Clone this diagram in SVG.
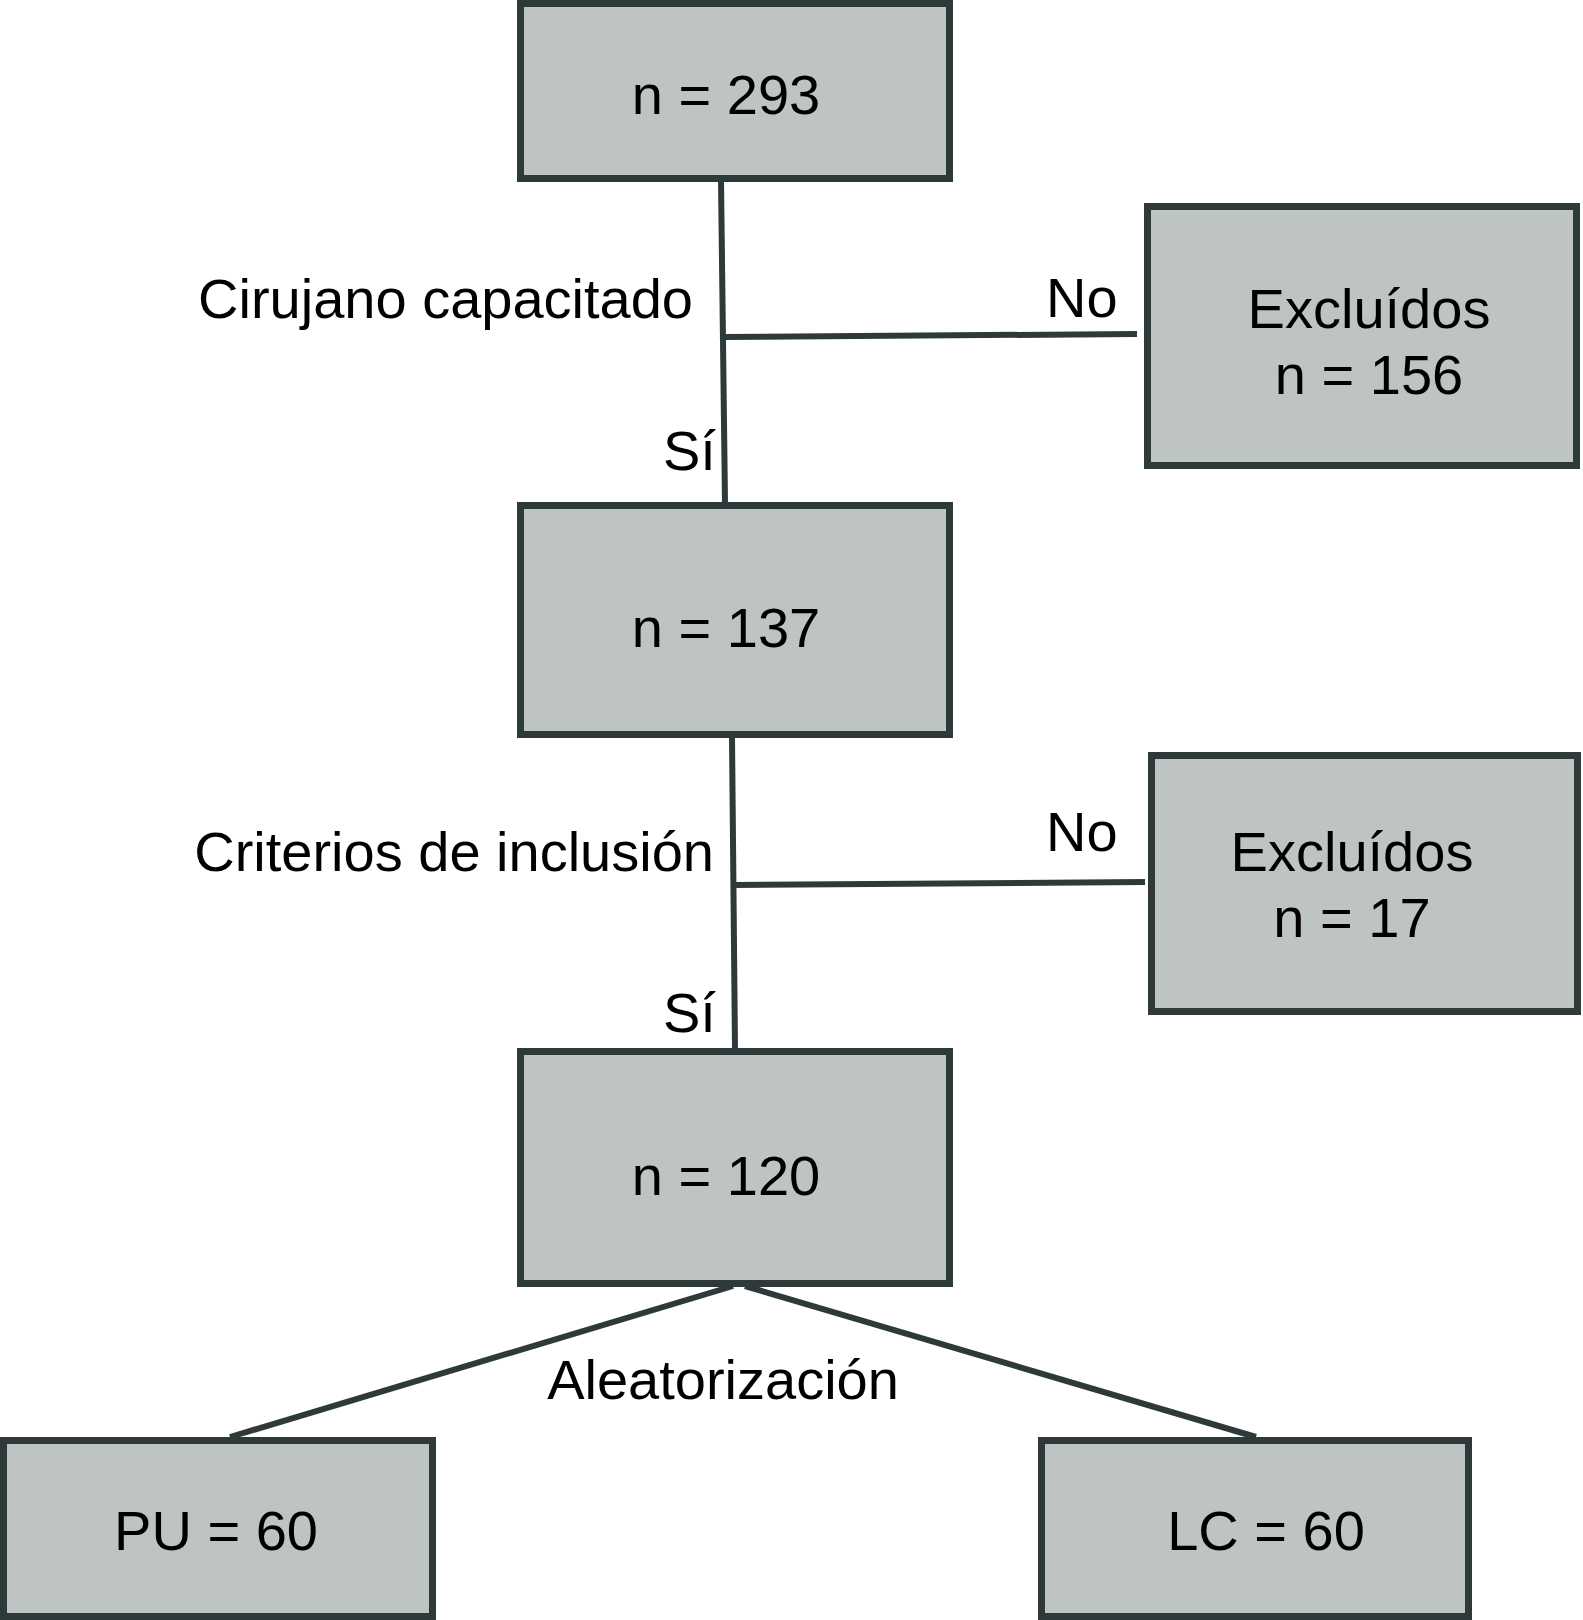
<svg xmlns="http://www.w3.org/2000/svg" width="1583" height="1620" viewBox="0 0 1583 1620">
<style>
.box{fill:#bdc4c1;stroke:#2e3a3a;stroke-width:7}
.ln{fill:none;stroke:#2e3a3a;stroke-width:6}
text{font-family:"Liberation Sans",Arial,Helvetica,sans-serif;font-size:56px;fill:#000}
.c{text-anchor:middle}
.e{text-anchor:end}
</style>
<rect width="1583" height="1620" fill="#fff"/>
<g id="connectors">
<line class="ln" x1="721" y1="180" x2="725" y2="503"/>
<line class="ln" x1="724" y1="337" x2="1137" y2="334"/>
<line class="ln" x1="732" y1="737" x2="735" y2="1050"/>
<line class="ln" x1="735" y1="885" x2="1145" y2="882"/>
<line class="ln" x1="733" y1="1286" x2="230" y2="1437"/>
<line class="ln" x1="745" y1="1286" x2="1256" y2="1437"/>
<text class="e" x="693" y="318">Cirujano capacitado</text>
<text x="1046" y="317">No</text>
<text x="663" y="470">Sí</text>
<text class="e" x="714" y="871">Criterios de inclusión</text>
<text x="1046" y="851">No</text>
<text x="663" y="1032">Sí</text>
<text class="c" x="723" y="1399">Aleatorización</text>
</g>
<g id="n293">
<rect class="box" x="520.5" y="3.5" width="429" height="175"/>
<text class="c" x="726" y="114">n = 293</text>
</g>
<g id="excl156">
<rect class="box" x="1147.5" y="206.5" width="429" height="259"/>
<text class="c" x="1369" y="328">Excluídos</text>
<text class="c" x="1369" y="394">n = 156</text>
</g>
<g id="n137">
<rect class="box" x="520.5" y="505.5" width="429" height="229"/>
<text class="c" x="726" y="647">n = 137</text>
</g>
<g id="excl17">
<rect class="box" x="1151.5" y="755.5" width="426" height="256"/>
<text class="c" x="1352" y="871">Excluídos</text>
<text class="c" x="1352" y="937">n = 17</text>
</g>
<g id="n120">
<rect class="box" x="520.5" y="1051.5" width="429" height="232"/>
<text class="c" x="726" y="1195">n = 120</text>
</g>
<g id="pu">
<rect class="box" x="3.5" y="1440.5" width="429" height="176"/>
<text class="c" x="216" y="1550">PU = 60</text>
</g>
<g id="lc">
<rect class="box" x="1041.5" y="1440.5" width="427" height="176"/>
<text class="c" x="1266" y="1550">LC = 60</text>
</g>
</svg>
